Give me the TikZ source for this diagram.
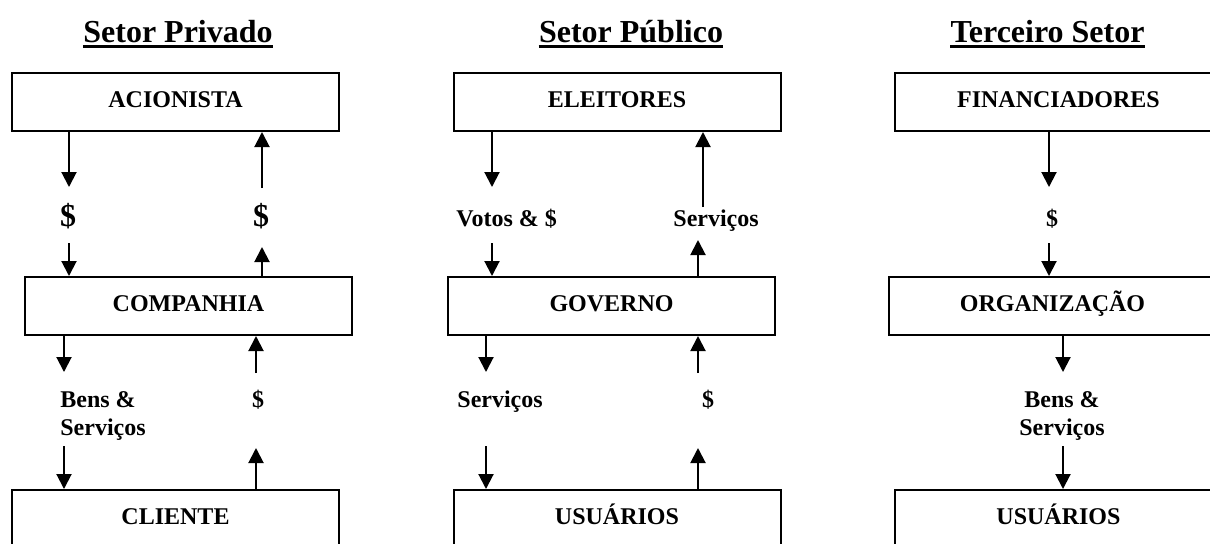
\documentclass[tikz,border=0pt]{standalone}
\usepackage{fontspec}
\setmainfont{Liberation Serif}
\usetikzlibrary{arrows.meta}
\tikzset{
  boxnode/.style={draw, line width=1pt, minimum width=163.5pt, minimum height=29pt, inner sep=0pt,
    font=\bfseries\fontsize{12}{14}\selectfont, text height=8pt, text depth=2.5pt},
  titlenode/.style={inner sep=0pt, anchor=base, font=\bfseries\fontsize{16}{19}\selectfont},
  lbl/.style={inner sep=0pt, font=\bfseries\fontsize{12}{14}\selectfont},
  biglbl/.style={inner sep=0pt, anchor=base, font=\bfseries\fontsize{16}{19}\selectfont},
  arr/.style={line width=1pt, -{Triangle[length=7.5pt,width=7.5pt]}},
  uline/.style={line width=1.2pt}
}
\begin{document}
\begin{tikzpicture}[x=0.5pt,y=-0.5pt]
\path[use as bounding box] (0,0) rectangle (1210,543);
\clip (0,0) rectangle (1210,543);

% titles
\node[titlenode] (t1) at (178,42) {Setor Privado};
\node[titlenode] (t2) at (631,42) {Setor Público};
\node[titlenode] (t3) at (1047.5,42) {Terceiro Setor};
\foreach \t in {t1,t2,t3}{
  \draw[uline] ([yshift=-2.3pt]\t.base west) -- ([yshift=-2.3pt]\t.base east);
}

% boxes
\node[boxnode] (acionista) at (175.5,102) {ACIONISTA};
\node[boxnode] (companhia) at (188.5,306) {COMPANHIA};
\node[boxnode] (cliente) at (175.5,519) {CLIENTE};
\node[boxnode] (eleitores) at (617,102) {ELEITORES};
\node[boxnode] (governo) at (611.5,306) {GOVERNO};
\node[boxnode] (usuarios) at (617,519) {USUÁRIOS};
\node[boxnode] (financ) at (1058.5,102) {FINANCIADORES};
\node[boxnode] (organiz) at (1052.5,306) {ORGANIZAÇÃO};
\node[boxnode] (usuarios3) at (1058.5,519) {USUÁRIOS};

% labels
\node[biglbl] (l1a) at (68,226) {\$};
\node[biglbl] (l1b) at (261,226) {\$};
\node[lbl, anchor=base west, align=left] (l1c) at (60,435) {Bens \&\\Serviços};
\node[lbl, anchor=base] (l1d) at (258,407) {\$};
\node[lbl, anchor=base west] (l2a) at (456,226) {Votos \& \$};
\node[lbl, anchor=base west] (l2b) at (673,226) {Serviços};
\node[lbl, anchor=base west] (l2c) at (457,407) {Serviços};
\node[lbl, anchor=base] (l2d) at (708,407) {\$};
\node[lbl, anchor=base] (l3a) at (1052,226) {\$};
\node[lbl, anchor=base, align=center] (l3b) at (1062,435) {Bens \&\\Serviços};

% free ends
\coordinate (c1a) at (69,187);
\coordinate (c1b) at (262,188);
\coordinate (c1c) at (69,243);
\coordinate (c1d) at (262,247);
\coordinate (c1e) at (64,372);
\coordinate (c1f) at (256,373);
\coordinate (c1g) at (64,446);
\coordinate (c1h) at (256,448);

\coordinate (c2a) at (492,187);
\coordinate (c2b) at (703,207);
\coordinate (c2c) at (492,243);
\coordinate (c2d) at (698,240);
\coordinate (c2e) at (486,372);
\coordinate (c2f) at (698,373);
\coordinate (c2g) at (486,446);
\coordinate (c2h) at (698,448);

\coordinate (c3a) at (1049,187);
\coordinate (c3b) at (1049,243);
\coordinate (c3c) at (1063,372);
\coordinate (c3d) at (1063,446);

% arrows column 1
\draw[arr] (acionista.south -| c1a) -- (c1a);
\draw[arr] (c1b) -- (acionista.south -| c1b);
\draw[arr] (c1c) -- (companhia.north -| c1c);
\draw[arr] (companhia.north -| c1d) -- (c1d);
\draw[arr] (companhia.south -| c1e) -- (c1e);
\draw[arr] (c1f) -- (companhia.south -| c1f);
\draw[arr] (c1g) -- (cliente.north -| c1g);
\draw[arr] (cliente.north -| c1h) -- (c1h);

% arrows column 2
\draw[arr] (eleitores.south -| c2a) -- (c2a);
\draw[arr] (c2b) -- (eleitores.south -| c2b);
\draw[arr] (c2c) -- (governo.north -| c2c);
\draw[arr] (governo.north -| c2d) -- (c2d);
\draw[arr] (governo.south -| c2e) -- (c2e);
\draw[arr] (c2f) -- (governo.south -| c2f);
\draw[arr] (c2g) -- (usuarios.north -| c2g);
\draw[arr] (usuarios.north -| c2h) -- (c2h);

% arrows column 3
\draw[arr] (financ.south -| c3a) -- (c3a);
\draw[arr] (c3b) -- (organiz.north -| c3b);
\draw[arr] (organiz.south -| c3c) -- (c3c);
\draw[arr] (c3d) -- (usuarios3.north -| c3d);
\end{tikzpicture}
\end{document}
